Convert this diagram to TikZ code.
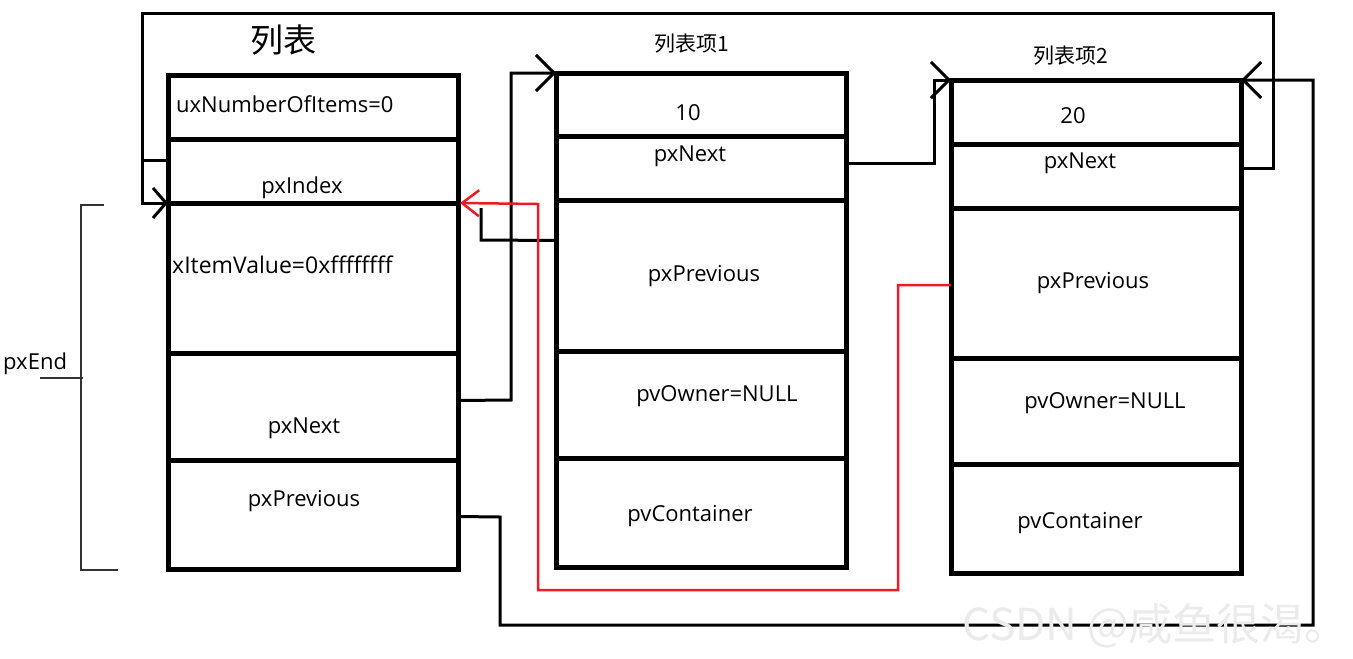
\documentclass[tikz,border=0pt]{standalone}
\usepackage{fontspec}
\setmainfont{Open Sans}
\newfontfamily\cjk{Noto Sans CJK SC}
\usetikzlibrary{arrows.meta}
\definecolor{paintred}{RGB}{237,28,36}
\definecolor{brk}{RGB}{50,50,50}
\begin{document}
\begin{tikzpicture}[x=1pt,y=-1pt,
  cell/.style={draw, line width=5pt, inner sep=0pt, outer sep=0pt, anchor=north west, minimum width=290pt},
  lbl/.style={font=\fontsize{22}{26}\selectfont, inner sep=0pt, anchor=base},
  ttl/.style={font=\cjk\fontsize{21}{24}\selectfont, inner sep=0pt},
  conn/.style={line width=3pt},
  tipbig/.style={-{Straight Barb[length=18pt,width=36pt]}},
  tipsmall/.style={-{Straight Barb[length=13pt,width=30pt]}},
  redconn/.style={line width=2.5pt, draw=paintred, -{Straight Barb[length=17pt,width=26pt]}},
  brack/.style={line width=2.5pt, draw=brk}]
\useasboundingbox[fill=white] (0,0) rectangle (1353,659);

% ---- list ----
\node[cell, minimum height=64pt]  (L0) at (168,75)  {};
\node[cell, minimum height=64pt]  (L1) at (168,139) {};
\node[cell, minimum height=150pt] (L2) at (168,203) {};
\node[cell, minimum height=107pt] (L3) at (168,353) {};
\node[cell, minimum height=109pt] (L4) at (168,460) {};
% ---- item 1 ----
\node[cell, minimum height=63pt]  (A0) at (556,73)  {};
\node[cell, minimum height=64pt]  (A1) at (556,136) {};
\node[cell, minimum height=151pt] (A2) at (556,200) {};
\node[cell, minimum height=107pt] (A3) at (556,351) {};
\node[cell, minimum height=109pt] (A4) at (556,458) {};
% ---- item 2 ----
\node[cell, minimum height=64pt]  (B0) at (951,80)  {};
\node[cell, minimum height=64pt]  (B1) at (951,144) {};
\node[cell, minimum height=150pt] (B2) at (951,208) {};
\node[cell, minimum height=106pt] (B3) at (951,358) {};
\node[cell, minimum height=109pt] (B4) at (951,464) {};

% ---- titles ----
\node[ttl, font=\cjk\fontsize{33}{36}\selectfont] (tL) at (283,40) {列表};
\node[ttl] (tA) at (692,44) {列表项1};
\node[ttl] (tB) at (1071,56) {列表项2};

% ---- labels ----
\node[lbl, anchor=base west] (tL0) at (176,112) {uxNumberOfItems=0};
\node[lbl] (tL1) at (302,193) {pxIndex};
\node[lbl, anchor=base west, font=\fontsize{23}{26}\selectfont] (tL2) at (172,273) {xItemValue=0xffffffff};
\node[lbl] (tL3) at (304,433) {pxNext};
\node[lbl] (tL4) at (304,506) {pxPrevious};

\node[lbl] (tA0) at (688,120) {10};
\node[lbl] (tA1) at (690,161) {pxNext};
\node[lbl] (tA2) at (704,281) {pxPrevious};
\node[lbl] (tA3) at (717,401) {pvOwner=NULL};
\node[lbl] (tA4) at (690,521) {pvContainer};

\node[lbl] (tB0) at (1073,123) {20};
\node[lbl] (tB1) at (1080,168) {pxNext};
\node[lbl] (tB2) at (1093,288) {pxPrevious};
\node[lbl] (tB3) at (1105,408) {pvOwner=NULL};
\node[lbl] (tB4) at (1080,528) {pvContainer};

\node[lbl, anchor=base west] (tEnd) at (3,369) {pxEnd};

% ---- pxEnd bracket ----
\coordinate (bt) at (81,205);
\coordinate (bb) at (81,570);
\draw[brack] (104,205) -- (bt) -- (bb) -- (118,570);
\draw[brack] (40,378) -- (83,378);

% ---- connectors ----
% item2.pxNext -> list (big loop)
\draw[conn, tipsmall] ([yshift=8pt]B1.east) -- (1273,168) -- (1273,13) -- (142,13) -- (142,203) -- (L2.north west);
\coordinate (stub) at (142,160);
\draw[conn] ([yshift=11pt]L1.west) -- (stub);
% list.pxNext -> item1
\draw[conn, tipbig] ([yshift=6pt]L3.east) -- (511,400) -- (511,73) -- (A0.north west);
% item1.pxNext -> item2
\draw[conn, tipbig] ([yshift=5pt]A1.east) -- (934,163) -- (934,80) -- (B0.north west);
% list.pxPrevious -> item2 (top right)
\draw[conn, tipbig] ([yshift=-2pt]L4.east) -- (500,517) -- (500,625) -- (1313,625) -- (1313,80) -- (B0.north east);
% item1.pxPrevious stub
\coordinate (pstub) at (481,208);
\draw[conn] ([yshift=35pt]A2.west) -- (481,240) -- (pstub);
% red: item2.pxPrevious -> list end
\draw[redconn] ([yshift=-2pt]B2.west) -- (898,285) -- (898,590) -- (538,590) -- (538,204) -- ([xshift=2pt]L2.north east);

% ---- watermark ----
\node[font=\cjk\fontsize{44}{48}\selectfont, text=gray!16, inner sep=0pt, anchor=base west] (wm) at (962,640) {CSDN @咸鱼很渴。};
\end{tikzpicture}
\end{document}
